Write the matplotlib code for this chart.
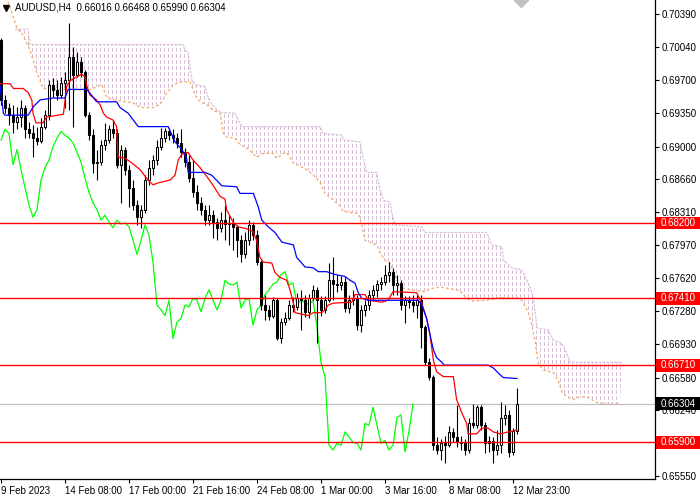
import matplotlib
matplotlib.use('Agg')
import matplotlib.pyplot as plt
import matplotlib.transforms as mtransforms
from matplotlib.patches import Polygon, Rectangle
import numpy as np

plt.rcParams['font.family'] = ['Liberation Sans', 'DejaVu Sans']

symbol = 'AUDUSD,H4'

# H4 candles, one per bar (bar 0 = 9 Feb 2023 16:00)
open_ = [0.7012, 0.6949, 0.6941, 0.6933, 0.6926, 0.6931, 0.6941, 0.6918, 0.6914, 0.6909,
         0.6906, 0.6921, 0.6933, 0.6965, 0.6959, 0.6954, 0.6967, 0.6970, 0.6994, 0.6975,
         0.6989, 0.6978, 0.6933, 0.6912, 0.6883, 0.6884, 0.6902, 0.6907, 0.6918, 0.6914,
         0.6881, 0.6897, 0.6876, 0.6857, 0.6839, 0.6826, 0.6834, 0.6865, 0.6878, 0.6886,
         0.6900, 0.6909, 0.6916, 0.6912, 0.6909, 0.6904, 0.6894, 0.6884, 0.6867, 0.6852,
         0.6841, 0.6834, 0.6823, 0.6828, 0.6821, 0.6815, 0.6823, 0.6819, 0.6820, 0.6816,
         0.6802, 0.6787, 0.6802, 0.6818, 0.6807, 0.6779, 0.6734, 0.6729, 0.6723, 0.6739,
         0.6699, 0.6716, 0.6720, 0.6734, 0.6732, 0.6741, 0.6739, 0.6727, 0.6741, 0.6750,
         0.6739, 0.6729, 0.6739, 0.6760, 0.6756, 0.6755, 0.6758, 0.6731, 0.6739, 0.6741,
         0.6713, 0.6729, 0.6734, 0.6745, 0.6750, 0.6756, 0.6758, 0.6766, 0.6769, 0.6755,
         0.6757, 0.6734, 0.6739, 0.6737, 0.6734, 0.6739, 0.6711, 0.6674, 0.6659, 0.6587,
         0.6582, 0.6589, 0.6587, 0.6601, 0.6596, 0.6590, 0.6589, 0.6582, 0.6610, 0.6608,
         0.6627, 0.6608, 0.6589, 0.6592, 0.6582, 0.6587, 0.6616, 0.6619, 0.6580, 0.66016]
high = [0.7014, 0.6954, 0.6946, 0.6944, 0.6942, 0.6949, 0.6944, 0.6926, 0.6923, 0.6921,
        0.6930, 0.6938, 0.6970, 0.6972, 0.6970, 0.6973, 0.6978, 0.7030, 0.7004, 0.6999,
        0.6994, 0.6980, 0.6936, 0.6918, 0.6897, 0.6907, 0.6925, 0.6923, 0.6928, 0.6918,
        0.6902, 0.6900, 0.6881, 0.6865, 0.6844, 0.6839, 0.6870, 0.6886, 0.6891, 0.6907,
        0.6920, 0.6920, 0.6920, 0.6918, 0.6914, 0.6918, 0.6899, 0.6891, 0.6886, 0.6860,
        0.6847, 0.6839, 0.6839, 0.6834, 0.6825, 0.6832, 0.6839, 0.6828, 0.6825, 0.6818,
        0.6807, 0.6811, 0.6823, 0.6821, 0.6813, 0.6781, 0.6745, 0.6734, 0.6742, 0.6741,
        0.6720, 0.6727, 0.6739, 0.6742, 0.6747, 0.6750, 0.6745, 0.6746, 0.6755, 0.6753,
        0.6744, 0.6744, 0.6778, 0.6784, 0.6766, 0.6764, 0.6763, 0.6745, 0.6750, 0.6745,
        0.6734, 0.6739, 0.6750, 0.6755, 0.6760, 0.6763, 0.6776, 0.6779, 0.6773, 0.6766,
        0.6760, 0.6744, 0.6744, 0.6745, 0.6745, 0.6745, 0.6713, 0.6679, 0.6661, 0.6596,
        0.6594, 0.6597, 0.6607, 0.6605, 0.6629, 0.6597, 0.6594, 0.6616, 0.6630, 0.6629,
        0.6629, 0.6611, 0.6597, 0.6596, 0.6603, 0.6632, 0.6629, 0.6624, 0.6605, 0.66468]
low = [0.6944, 0.6935, 0.6923, 0.6914, 0.6918, 0.6921, 0.6909, 0.6909, 0.6889, 0.6902,
       0.6904, 0.6918, 0.6928, 0.6952, 0.6949, 0.6951, 0.6941, 0.6938, 0.6921, 0.6973,
       0.6973, 0.6931, 0.6907, 0.6872, 0.6865, 0.6881, 0.6897, 0.6904, 0.6909, 0.6878,
       0.6841, 0.6870, 0.6837, 0.6834, 0.6818, 0.6815, 0.6830, 0.6860, 0.6870, 0.6881,
       0.6897, 0.6905, 0.6907, 0.6904, 0.6899, 0.6889, 0.6879, 0.6863, 0.6847, 0.6834,
       0.6828, 0.6818, 0.6818, 0.6804, 0.6802, 0.6811, 0.6802, 0.6797, 0.6792, 0.6784,
       0.6779, 0.6783, 0.6797, 0.6802, 0.6776, 0.6729, 0.6718, 0.6718, 0.6720, 0.6697,
       0.6694, 0.6713, 0.6718, 0.6727, 0.6729, 0.6708, 0.6722, 0.6720, 0.6739, 0.6694,
       0.6723, 0.6726, 0.6737, 0.6739, 0.6748, 0.6750, 0.6727, 0.6726, 0.6734, 0.6708,
       0.6706, 0.6723, 0.6729, 0.6739, 0.6742, 0.6750, 0.6755, 0.6758, 0.6745, 0.6745,
       0.6729, 0.6715, 0.6731, 0.6727, 0.6720, 0.6689, 0.6671, 0.6655, 0.6582, 0.6578,
       0.6572, 0.6568, 0.6585, 0.6590, 0.6585, 0.6582, 0.6577, 0.6579, 0.6605, 0.6605,
       0.6603, 0.6579, 0.6580, 0.6568, 0.6577, 0.6579, 0.6608, 0.6575, 0.6577, 0.65990]
close_ = [0.6949, 0.6941, 0.6933, 0.6926, 0.6931, 0.6941, 0.6918, 0.6914, 0.6909, 0.6906,
          0.6921, 0.6933, 0.6965, 0.6959, 0.6954, 0.6967, 0.6970, 0.6994, 0.6975, 0.6989,
          0.6978, 0.6933, 0.6912, 0.6883, 0.6884, 0.6902, 0.6907, 0.6918, 0.6914, 0.6881,
          0.6897, 0.6876, 0.6857, 0.6839, 0.6826, 0.6834, 0.6865, 0.6878, 0.6886, 0.6900,
          0.6909, 0.6916, 0.6912, 0.6909, 0.6904, 0.6894, 0.6884, 0.6867, 0.6852, 0.6841,
          0.6834, 0.6823, 0.6828, 0.6821, 0.6815, 0.6823, 0.6819, 0.6820, 0.6816, 0.6802,
          0.6787, 0.6802, 0.6818, 0.6807, 0.6779, 0.6734, 0.6729, 0.6723, 0.6739, 0.6699,
          0.6716, 0.6720, 0.6734, 0.6732, 0.6741, 0.6739, 0.6727, 0.6741, 0.6750, 0.6739,
          0.6729, 0.6739, 0.6760, 0.6756, 0.6755, 0.6758, 0.6731, 0.6739, 0.6741, 0.6713,
          0.6729, 0.6734, 0.6745, 0.6750, 0.6756, 0.6758, 0.6766, 0.6769, 0.6755, 0.6757,
          0.6734, 0.6739, 0.6737, 0.6734, 0.6739, 0.6711, 0.6674, 0.6659, 0.6587, 0.6582,
          0.6589, 0.6587, 0.6601, 0.6596, 0.6590, 0.6589, 0.6582, 0.6610, 0.6608, 0.6627,
          0.6608, 0.6589, 0.6592, 0.6582, 0.6587, 0.6616, 0.6619, 0.6580, 0.6602, 0.66304]

# Ichimoku lines, read as (bar, price) vertices
tenkan_bar = [-0.25, 2.25, 3.1, 5.5, 6.75, 7.7, 8, 8.75, 10.5, 11.4, 15.6, 16.4, 17.25, 18.9, 20.2,
              21, 21.5, 22.25, 23.9, 24.75, 25.6, 26.4, 28, 28.9, 29.25, 31, 32.7, 34.75, 36.75,
              38, 39.25, 42.25, 43.5, 44.3, 45.2, 46.75, 48, 49.75, 51.4, 53.1, 54.75, 56, 56.4,
              58, 59.3, 61.4, 63, 63.9, 64.75, 65.6, 67.7, 68.5, 69.75, 71.4, 72.25, 73.1, 73.5,
              76.8, 78.1, 80.2, 81, 81.8, 83.1, 87.7, 88.5, 91, 91.8, 95.2, 96.8, 98, 103.9,
              105.2, 106.4, 107.25, 108.1, 108.9, 110.6, 113.1, 113.9, 115.2, 116.4, 116.8,
              118.9, 120.2, 121.8, 123.1, 124.75, 126.8, 129]
tenkan_val = [0.6966, 0.6966, 0.6961, 0.6961, 0.6957, 0.6949, 0.6935, 0.6925, 0.6925, 0.6931,
              0.6934, 0.6963, 0.6969, 0.6973, 0.6976, 0.6973, 0.6963, 0.6954, 0.6949, 0.6944,
              0.6935, 0.6931, 0.6928, 0.6921, 0.6889, 0.6888, 0.6883, 0.6876, 0.6865, 0.6860,
              0.6862, 0.6865, 0.6870, 0.6886, 0.6892, 0.6894, 0.6886, 0.6878, 0.6869, 0.6859,
              0.6848, 0.6845, 0.6834, 0.6821, 0.6816, 0.6814, 0.6811, 0.6802, 0.6784, 0.6779,
              0.6778, 0.6768, 0.6763, 0.6760, 0.6750, 0.6736, 0.6726, 0.6723, 0.6726, 0.6726,
              0.6729, 0.6734, 0.6736, 0.6737, 0.6745, 0.6745, 0.6739, 0.6737, 0.6739, 0.6748,
              0.6747, 0.6736, 0.6720, 0.6703, 0.6676, 0.6664, 0.6659, 0.6659, 0.6635, 0.6621,
              0.6610, 0.6599, 0.6599, 0.6605, 0.6605, 0.6601, 0.6599, 0.6601, 0.6603]
kijun_bar = [-0.25, 0.6, 1, 6.8, 8.1, 9.75, 13.1, 16, 16.8, 21.4, 22.25, 23.9, 28.9, 29.75, 31.8,
             34.3, 41.8, 43.5, 45.2, 46.4, 46.8, 51, 52.7, 54.3, 55.2, 58.9, 59.75, 63.1, 64.3,
             65.2, 66.8, 68.5, 70.2, 73.1, 73.9, 76, 78.1, 79.3, 81.4, 83.5, 86, 87.25, 88.5,
             89.3, 90.2, 91.8, 104.3, 105.2, 106.4, 107.25, 108.1, 108.9, 110.2, 110.8, 121.8,
             123.1, 124.75, 125.6, 129]
kijun_val = [0.6964, 0.6935, 0.6933, 0.6933, 0.6942, 0.6949, 0.6951, 0.6951, 0.6960, 0.6960,
             0.6956, 0.6947, 0.6947, 0.6941, 0.6935, 0.6921, 0.6921, 0.6905, 0.6897, 0.6888,
             0.6873, 0.6873, 0.6870, 0.6863, 0.6859, 0.6858, 0.6851, 0.6851, 0.6837, 0.6823,
             0.6816, 0.6810, 0.6800, 0.6797, 0.6784, 0.6774, 0.6773, 0.6769, 0.6769, 0.6766,
             0.6764, 0.6760, 0.6757, 0.6747, 0.6741, 0.6739, 0.6739, 0.6734, 0.6720, 0.6703,
             0.6687, 0.6679, 0.6674, 0.6671, 0.6671, 0.6668, 0.6661, 0.6658, 0.6657]
span_a_bar = [1.75, 2.75, 4, 5.2, 6.4, 7.25, 8, 8.9, 9.75, 10.5, 21.75, 24, 25.2, 26.4, 28, 33,
              34.75, 38, 39.75, 41.4, 43.1, 45.2, 47.25, 48.5, 49.75, 51.4, 53.1, 54.75, 55.6,
              56.4, 58.5, 59.75, 61.4, 63.9, 65.6, 68, 68.9, 70.6, 71.4, 73.1, 76.4, 78.1, 79.75,
              81, 83.1, 84.75, 85.6, 89.3, 90.2, 91, 93.9, 94.75, 96, 97.25, 98.5, 100.2, 102.25,
              106, 107.25, 109.75, 112.25, 114.75, 116.4, 118.1, 121.4, 123.9, 127.25, 129.75,
              130.6, 131.8, 132.7, 133.5, 134.3, 135.6, 138.1, 139.3, 140.2, 141.4, 143.1,
              144.75, 146.8, 148.9, 151.4, 154.75]
span_a_val = [0.7052, 0.7040, 0.7024, 0.7019, 0.7009, 0.7001, 0.6991, 0.6978, 0.6970, 0.6961,
              0.6959, 0.6963, 0.6965, 0.6952, 0.6949, 0.6946, 0.6941, 0.6941, 0.6944, 0.6956,
              0.6965, 0.6968, 0.6968, 0.6954, 0.6947, 0.6944, 0.6938, 0.6935, 0.6914, 0.6910,
              0.6909, 0.6902, 0.6899, 0.6889, 0.6893, 0.6893, 0.6888, 0.6893, 0.6894, 0.6883,
              0.6876, 0.6870, 0.6863, 0.6851, 0.6844, 0.6838, 0.6832, 0.6830, 0.6818, 0.6802,
              0.6797, 0.6789, 0.6781, 0.6778, 0.6764, 0.6752, 0.6750, 0.6748, 0.6751, 0.6753,
              0.6751, 0.6749, 0.6741, 0.6738, 0.6739, 0.6741, 0.6742, 0.6741, 0.6736, 0.6726,
              0.6713, 0.6697, 0.6673, 0.6666, 0.6663, 0.6655, 0.6643, 0.6638, 0.6635, 0.6638,
              0.6637, 0.6632, 0.6630, 0.6631]
span_b_bar = [3.5, 6.75, 7.25, 45.5, 46, 46.75, 47.7, 48.5, 51, 51.5, 52.75, 54.75, 58.5, 59.25,
              60.25, 79.75, 80.5, 85.2, 85.6, 89.75, 90.25, 91.4, 93.9, 94.75, 95.6, 97.25, 97.75,
              98.5, 105.2, 106, 121.4, 122.25, 122.7, 125.2, 125.6, 127.7, 130.2, 131, 132.25,
              133.1, 134, 136.8, 138.1, 140.2, 141.4, 142.25, 155.2]
span_b_val = [0.7023, 0.7023, 0.7007, 0.7007, 0.7001, 0.6999, 0.6970, 0.6965, 0.6963, 0.6954,
              0.6944, 0.6936, 0.6935, 0.6928, 0.6921, 0.6921, 0.6914, 0.6912, 0.6907, 0.6905,
              0.6894, 0.6873, 0.6873, 0.6855, 0.6844, 0.6842, 0.6830, 0.6818, 0.6816, 0.6810,
              0.6810, 0.6802, 0.6797, 0.6795, 0.6781, 0.6773, 0.6771, 0.6764, 0.6753, 0.6742,
              0.6710, 0.6708, 0.6697, 0.6694, 0.6684, 0.6674, 0.6674]
chikou_shift = 26

# horizontal levels and axis text
levels = [0.6820, 0.6741, 0.6671, 0.6590]
last_price = 0.66304
y_ticks = [0.70390, 0.70040, 0.69700, 0.69350, 0.69000, 0.68660, 0.68310, 0.67970,
           0.67620, 0.67280, 0.66930, 0.66580, 0.66240, 0.65900, 0.65550]
x_tick_bars = [0, 16, 32, 48, 64, 80, 96, 112, 128]
x_tick_labels = ['9 Feb 2023', '14 Feb 08:00', '17 Feb 00:00', '21 Feb 16:00', '24 Feb 08:00',
                 '1 Mar 00:00', '3 Mar 16:00', '8 Mar 08:00', '12 Mar 23:00']

fig = plt.figure(figsize=(7, 5), dpi=100)
ax = fig.add_axes([0, 21 / 500, 655 / 700, 479 / 500])
ax.set_xlim(-0.25, 163.5)
ax.set_ylim(0.65517, 0.70537)

# cloud hatch: one dotted stroke per bar, clipped to the area between the spans
poly_pts = list(zip(span_b_bar, span_b_val))
poly_pts += [(b, v) for b, v in zip(span_a_bar[::-1], span_a_val[::-1]) if b >= span_b_bar[0]]
cloud = Polygon(poly_pts, closed=True, transform=ax.transData)
cols = np.arange(4, 156) - 0.25
hatch = ax.vlines(cols, 0.65, 0.71, colors='#D8BFD8', linewidth=0.75,
                  linestyles=[(0, (3, 2))], zorder=1, antialiased=False)
hatch.set_clip_path(cloud)

ax.plot(span_a_bar, span_a_val, color='#F4A460', lw=0.9, linestyle=(0, (2, 2)), zorder=2)
ax.plot(span_b_bar, span_b_val, color='#D8BFD8', lw=0.9, linestyle=(0, (2, 1)), zorder=2)

# current price line
ax.axhline(last_price, color='#C0C0C0', lw=0.9, zorder=2)

# chikou span = closes moved back 26 bars
bars = np.arange(len(close_))
ax.plot(bars[chikou_shift:] - chikou_shift, close_[chikou_shift:], color='#00FF00', lw=0.9, zorder=3)

# candles
o = np.array(open_)
c = np.array(close_)
ax.vlines(bars, low, high, color='black', lw=0.8, zorder=4)
body_lo = np.minimum(o, c)
body_h = np.maximum(np.abs(c - o), 0.00006)
face = ['white' if cc >= oo else 'black' for oo, cc in zip(o, c)]
ax.bar(bars, body_h, bottom=body_lo, width=0.6, color=face, edgecolor='black',
       linewidth=0.75, zorder=5)

ax.plot(tenkan_bar, tenkan_val, color='#FF0000', lw=0.9, zorder=6)
ax.plot(kijun_bar, kijun_val, color='#0000FF', lw=0.9, zorder=6)

for lv in levels:
    ax.axhline(lv, color='#FF0000', lw=1.0, zorder=7)

# shift marker at top
ax.plot([130], [0.70537], marker='D', ms=7, color='#C0C0C0', zorder=8)

# axes styling
for s in ['top', 'left']:
    ax.spines[s].set_visible(False)
for s in ['right', 'bottom']:
    ax.spines[s].set_color('black')
    ax.spines[s].set_linewidth(0.9)

ax.yaxis.tick_right()
ax.set_yticks(y_ticks)
ax.set_yticklabels(['%.5f' % t for t in y_ticks])
ax.tick_params(axis='y', direction='out', length=3, width=0.8, pad=1.5, labelsize=7)
ax.set_xticks(x_tick_bars)
ax.set_xticklabels(x_tick_labels)
ax.tick_params(axis='x', direction='out', length=3, width=0.8, pad=2, labelsize=7)
for lab in ax.get_xticklabels():
    lab.set_ha('left')

# price boxes on the right scale
trans = mtransforms.blended_transform_factory(ax.transAxes, ax.transData)
box_h = 0.00136
for price, fc in [(lv, '#FF0000') for lv in levels] + [(last_price, 'black')]:
    ax.add_patch(Rectangle((1.0 + 1 / 655, price - box_h / 2), 45 / 655, box_h,
                           transform=trans, facecolor=fc, edgecolor='none',
                           clip_on=False, zorder=10))
    txt = '%.5f' % price
    ax.text(1.0 + 6 / 655, price, txt, transform=trans, color='white', fontsize=7,
            va='center', ha='left', clip_on=False, zorder=11)

# header
ax.plot([6 / 700], [1 - 8 / 500], marker='v', ms=4, color='black',
        transform=fig.transFigure, clip_on=False)
fig.text(15 / 700, 1 - 8 / 500,
         '%s  %.5f %.5f %.5f %.5f' % (symbol, open_[-1], high[-1], low[-1], close_[-1]),
         fontsize=7, va='center', ha='left')

fig.savefig('out.png', dpi=100)
